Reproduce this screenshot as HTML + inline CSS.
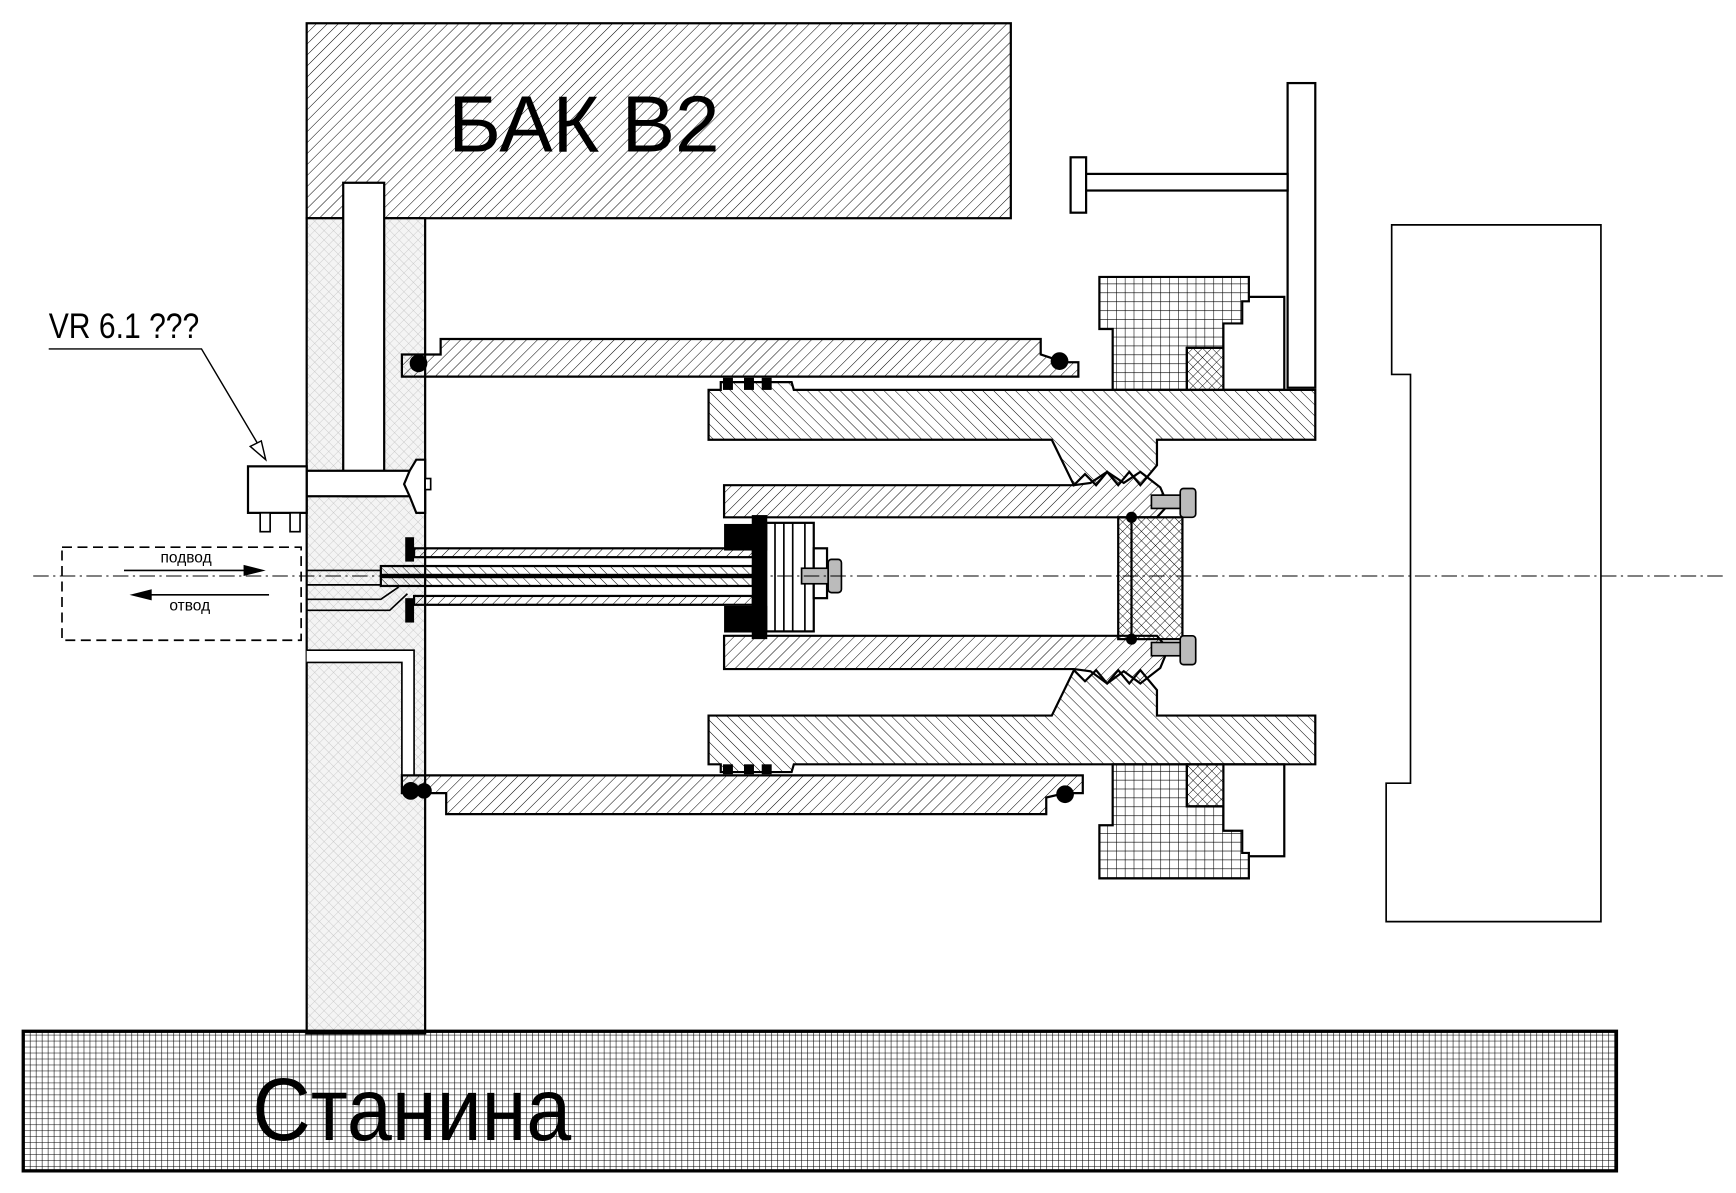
<!DOCTYPE html>
<html><head><meta charset="utf-8"><style>html,body{margin:0;padding:0;background:#fff}svg{display:block}</style></head>
<body>
<svg width="1736" height="1193" viewBox="0 0 1568 1077" preserveAspectRatio="none" xmlns="http://www.w3.org/2000/svg" font-family="Liberation Sans, sans-serif">
<defs>
<pattern id="h1" width="7" height="7" patternUnits="userSpaceOnUse" patternTransform="rotate(45)"><line x1="0" y1="0" x2="0" y2="7" stroke="#000" stroke-width="0.9"/></pattern>
<pattern id="h2" width="7" height="7" patternUnits="userSpaceOnUse" patternTransform="rotate(-45)"><line x1="0" y1="0" x2="0" y2="7" stroke="#000" stroke-width="0.9"/></pattern>
<pattern id="grid" width="5.4" height="5.4" patternUnits="userSpaceOnUse"><path d="M0 0H5.4M0 0V5.4" stroke="#000" stroke-width="1"/></pattern>
<pattern id="grid2" width="8" height="8" patternUnits="userSpaceOnUse"><path d="M0 0H8M0 0V8" stroke="#000" stroke-width="1"/></pattern>
<pattern id="xh" width="6" height="6" patternUnits="userSpaceOnUse" patternTransform="rotate(45)"><path d="M0 0H6M0 0V6" stroke="#000" stroke-width="0.8"/></pattern>
<pattern id="lx" width="6" height="6" patternUnits="userSpaceOnUse" patternTransform="rotate(45)"><rect width="6" height="6" fill="#f4f4f4"/><path d="M0 0H6M0 0V6" stroke="#bbb" stroke-width="0.6"/></pattern>
</defs>
<g stroke="#000" stroke-width="2">
<rect x="277" y="21" width="636" height="176" fill="url(#h1)"/>
<rect x="277" y="197" width="107" height="736" fill="url(#lx)"/>
<rect x="310" y="165" width="37" height="283" fill="#fff"/>
<rect x="277" y="425" width="93" height="23" fill="#fff"/>
<path d="M370 425 L376 415 L384 415 L384 463 L376 463 L370 448 L365 437 Z" fill="#fff"/>
<rect x="384" y="432" width="5" height="10" fill="#fff" stroke-width="1.5"/>
<path d="M277 587 H374 V700 H363 V598 H277" fill="#fff" stroke-width="1.5"/>
<rect x="21" y="931" width="1439" height="126" fill="url(#grid)" stroke-width="3"/>
<path d="M363 340 H974 V327 H961 L940 320 V306 H398 V320 H363 Z" fill="url(#h1)"/>
<path d="M363 716 L363 700 H978 V716 H962 L945 720 V735 H403 V716 Z" fill="url(#h1)"/>
<path d="M640 352 V397 H950 L970 438 L980 428 L990 438 L1000 426 L1010 438 L1020 426 L1030 438 L1045 420 V397 H1188 V352 H717 L715 345 H651 L651 352 Z" fill="url(#h2)"/>
<path d="M640 690 V646 H950 L970 605 L980 615 L990 605 L1000 617 L1010 605 L1020 617 L1030 605 L1045 623 V646 H1188 V690 H717 L715 697 H651 L651 690 Z" fill="url(#h2)"/>
<path d="M654 438 H970 L985 436 L1000 426 L1015 436 L1030 426 L1048 440 L1055 456 L1045 467 H654 Z" fill="url(#h1)"/>
<path d="M654 604 H970 L985 606 L1000 617 L1015 606 L1030 617 L1048 603 L1055 586 L1045 574 H654 Z" fill="url(#h1)"/>
<rect x="1010" y="467" width="58" height="110" fill="url(#xh)"/>
<line x1="1022" y1="467" x2="1022" y2="577"/>
<rect x="692" y="472" width="43" height="98" fill="#fff"/>
<path d="M700 472V570M708 472V570M716 472V570M727 472V570" stroke-width="1.5"/>
<rect x="735" y="495" width="12" height="45" fill="#fff"/>
<rect x="655" y="474" width="37" height="22" fill="#000"/>
<rect x="655" y="548" width="37" height="22" fill="#000"/>
<rect x="680" y="466" width="12" height="110" fill="#000"/>
<rect x="366" y="485" width="8" height="22" fill="#000" stroke="none"/>
<rect x="366" y="540" width="8" height="22" fill="#000" stroke="none"/>
<rect x="374" y="495" width="306" height="8" fill="url(#h1)"/>
<rect x="344" y="511" width="336" height="8" fill="url(#h2)"/>
<rect x="344" y="521" width="336" height="8" fill="url(#h2)"/>
<rect x="374" y="538" width="306" height="8" fill="url(#h1)"/>
<path d="M277 515 H344 M277 528 H344 M277 541 H344 L360 530 M277 551 H352 L368 536" stroke-width="1.5" fill="none"/>
<g fill="#bbb" stroke-width="1.5">
<rect x="724" y="513" width="26" height="14"/><rect x="748" y="505" width="12" height="30" rx="3"/>
<rect x="1040" y="447" width="28" height="12"/><rect x="1066" y="441" width="14" height="26" rx="3"/>
<rect x="1040" y="580" width="28" height="12"/><rect x="1066" y="574" width="14" height="26" rx="3"/>
</g>
<circle cx="1022" cy="467" r="5" fill="#000" stroke="none"/>
<circle cx="1022" cy="577" r="5" fill="#000" stroke="none"/>
<path d="M993 250 H1128 V272 H1122 V292 H1105 V314 H1072 V352 H1005 V297 H993 Z" fill="url(#grid2)"/>
<rect x="1072" y="314" width="33" height="38" fill="url(#xh)"/>
<path d="M1128 268 H1160 V352 H1105" fill="none"/>
<path d="M993 793 H1128 V770 H1122 V750 H1105 V728 H1072 V690 H1005 V745 H993 Z" fill="url(#grid2)"/>
<rect x="1072" y="690" width="33" height="38" fill="url(#xh)"/>
<path d="M1128 773 H1160 V690 H1105" fill="none"/>
<rect x="1163" y="75" width="25" height="275" fill="#fff"/>
<rect x="980" y="157" width="183" height="15" fill="#fff"/>
<rect x="967" y="142" width="14" height="50" fill="#fff"/>
<path d="M1257 203 H1446 V832 H1252 V707 H1274 V338 H1257 Z" fill="#fff" stroke-width="1.5"/>
<g fill="#000" stroke="none"><circle cx="378" cy="328" r="8"/><circle cx="957" cy="326" r="8"/><circle cx="371" cy="714" r="8"/><circle cx="383" cy="714" r="7"/><circle cx="962" cy="717" r="8"/>
<rect x="653" y="341" width="9" height="11"/><rect x="672" y="341" width="9" height="11"/><rect x="688" y="341" width="9" height="11"/>
<rect x="653" y="690" width="9" height="9"/><rect x="672" y="690" width="9" height="9"/><rect x="688" y="690" width="9" height="9"/></g>
<rect x="224" y="421" width="53" height="42" fill="#fff"/>
<rect x="235" y="463" width="9" height="17" fill="#fff" stroke-width="1.5"/>
<rect x="262" y="463" width="9" height="17" fill="#fff" stroke-width="1.5"/>
<path d="M44 315 H182 L236 406" fill="none" stroke-width="1.3"/>
<path d="M240 415 L226 403 L236 398 Z" fill="#fff" stroke-width="1.3"/>
<rect x="56" y="494" width="216" height="84" fill="none" stroke-dasharray="9 5" stroke-width="1.5"/>
<line x1="112" y1="515" x2="225" y2="515" stroke-width="1.5"/>
<path d="M240 515 L220 510 L220 520 Z" fill="#000" stroke="none"/>
<line x1="135" y1="537" x2="243" y2="537" stroke-width="1.5"/>
<path d="M117 537 L137 532 L137 542 Z" fill="#000" stroke="none"/>
</g>
<line x1="30" y1="520" x2="1560" y2="520" stroke="#000" stroke-width="1" stroke-dasharray="14 4 2 4"/>
<g fill="#000">
<text x="405" y="137" font-size="72" textLength="245" lengthAdjust="spacingAndGlyphs">БАК В2</text>
<text x="228" y="1029" font-size="80" textLength="288" lengthAdjust="spacingAndGlyphs">Станина</text>
<text x="44" y="305" font-size="32" textLength="136" lengthAdjust="spacingAndGlyphs">VR 6.1 ???</text>
<text x="145" y="508" font-size="14">подвод</text>
<text x="153" y="551" font-size="14">отвод</text>
</g>
</svg>
</body></html>
